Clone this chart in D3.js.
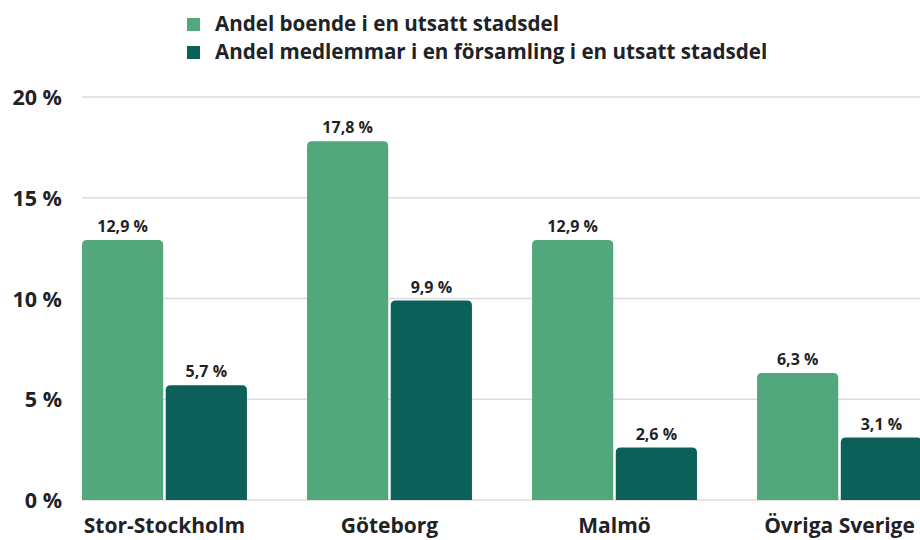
<!DOCTYPE html>
<html><head><meta charset="utf-8">
<script src="https://cdn.jsdelivr.net/npm/d3@7"></script>
<style>
html,body{margin:0;padding:0;background:#fff;}
svg text{font-family:"Open Sans",sans-serif;font-weight:700;fill:#1f2326;}
</style></head>
<body><svg id="c" width="920" height="540"></svg>
<script>
const categories = ["Stor-Stockholm","Göteborg","Malmö","Övriga Sverige"];
const seriesNames = ["Andel boende i en utsatt stadsdel","Andel medlemmar i en församling i en utsatt stadsdel"];
const boende = [12.9, 17.8, 12.9, 6.3];
const medlemmar = [5.7, 9.9, 2.6, 3.1];
const yTicks = [0, 5, 10, 15, 20];
const colors = ["#53a77d", "#0b615a"];

const svg = d3.select("#c");
const fmt = v => String(v.toFixed(1)).replace(".", ",") + " %";

const y = d3.scaleLinear().domain([0, 20]).range([500, 97]);
const x0 = d3.scaleBand().domain(categories).range([82, 922]).paddingInner(0.267).paddingOuter(0);
const x1 = d3.scaleBand().domain([0, 1]).range([0, x0.bandwidth()]).paddingInner(0.03);

// grid
svg.append("g").selectAll("line").data(yTicks).join("line")
  .attr("x1", 82).attr("x2", 920)
  .attr("y1", d => y(d)).attr("y2", d => y(d))
  .attr("stroke", "#dcdcdc").attr("stroke-width", 1.5);

// y labels
svg.append("g").selectAll("text").data(yTicks).join("text")
  .attr("x", 62).attr("y", d => y(d) + 8)
  .attr("text-anchor", "end").attr("font-size", 21.5)
  .text(d => d + " %");

const data = [];
categories.forEach((c, i) => {
  data.push({c, s: 0, v: boende[i]});
  data.push({c, s: 1, v: medlemmar[i]});
});

function roundTop(x, yTop, w, h, r) {
  r = Math.min(r, h, w / 2);
  return `M${x},${yTop + h}V${yTop + r}Q${x},${yTop} ${x + r},${yTop}H${x + w - r}Q${x + w},${yTop} ${x + w},${yTop + r}V${yTop + h}Z`;
}

svg.append("g").selectAll("path").data(data).join("path")
  .attr("fill", d => colors[d.s])
  .attr("d", d => {
    const bx = x0(d.c) + x1(d.s);
    return roundTop(bx, y(d.v), x1.bandwidth(), y(0) - y(d.v), 5);
  });

svg.append("g").selectAll("text").data(data).join("text")
  .attr("x", d => x0(d.c) + x1(d.s) + x1.bandwidth() / 2)
  .attr("y", d => y(d.v) - 8)
  .attr("text-anchor", "middle").attr("font-size", 16)
  .text(d => fmt(d.v));

// x labels
svg.append("g").selectAll("text").data(categories).join("text")
  .attr("x", d => x0(d) + x0.bandwidth() / 2)
  .attr("y", 533)
  .attr("text-anchor", "middle").attr("font-size", 21)
  .text(d => d);

// legend
const lg = svg.append("g").selectAll("g").data(seriesNames).join("g")
  .attr("transform", (d, i) => `translate(187,${18 + i * 28})`);
lg.append("rect").attr("width", 13).attr("height", 13).attr("fill", (d, i) => colors[i]);
lg.append("text").attr("x", 28).attr("y", 12.5).attr("font-size", 20.6).text(d => d);
</script></body></html>
